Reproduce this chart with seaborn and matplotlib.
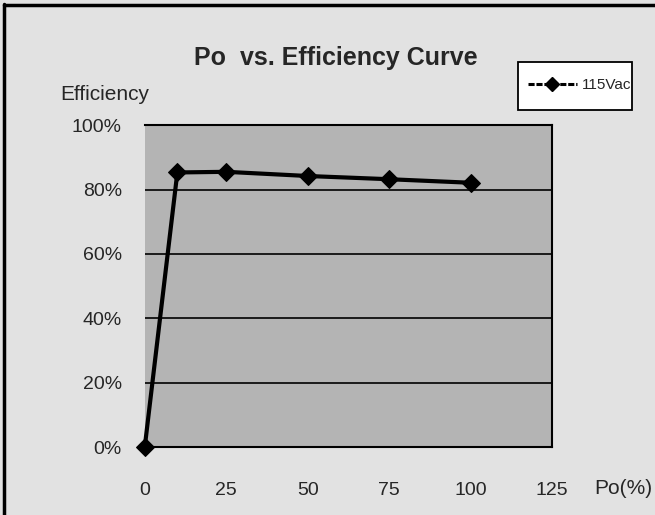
import numpy as np
import pandas as pd
import matplotlib.pyplot as plt
import seaborn as sb
from matplotlib.lines import Line2D
from matplotlib.patches import Rectangle

# data
po = [0, 10, 25, 50, 75, 100]
eff = [0.0, 85.3, 85.5, 84.2, 83.2, 82.1]
series = "115Vac"
x_ticks = [0, 25, 50, 75, 100, 125]
y_ticks = [0, 20, 40, 60, 80, 100]

df = pd.DataFrame({"Po": po, "Efficiency": eff, "series": series})

sb.set_style("white")
plt.rcParams["font.family"] = ["Liberation Sans", "DejaVu Sans"]

fig = plt.figure(figsize=(6.55, 5.15), dpi=100)
fig.patch.set_facecolor("#e2e2e2")
# scanned frame: only left and top edges are visible
fig.lines.append(Line2D([0.006, 0.006], [0, 0.993], transform=fig.transFigure,
                        color="black", linewidth=2.5))
fig.lines.append(Line2D([0.006, 1], [0.991, 0.991], transform=fig.transFigure,
                        color="black", linewidth=2.5))

ax = fig.add_axes([0.221, 0.132, 0.622, 0.625])
ax.set_facecolor("#b4b4b4")

sb.lineplot(data=df, x="Po", y="Efficiency", color="black", linewidth=3,
            marker="D", markersize=9, markeredgecolor="black", ax=ax,
            legend=False, clip_on=False, zorder=5)

ax.set_xlim(0, 125)
ax.set_ylim(0, 100)
ax.set_xticks(x_ticks)
ax.set_yticks(y_ticks)
ax.set_yticklabels([f"{v}%" for v in y_ticks])
ax.yaxis.grid(True, color="black", linewidth=1.2)
ax.set_axisbelow(True)
for s in ax.spines.values():
    s.set_color("black")
    s.set_linewidth(1.5)
ax.spines["left"].set_visible(False)
ax.tick_params(axis="x", direction="in", length=5, width=1.2, pad=25,
               labelsize=14, color="black")
ax.tick_params(axis="y", length=0, pad=16.5, labelsize=14)
ax.set_xlabel("")
ax.set_ylabel("")

fig.text(0.513, 0.887, "Po  vs. Efficiency Curve", ha="center", va="center",
         fontsize=18, fontweight="bold")
fig.text(0.092, 0.816, "Efficiency", ha="left", va="center", fontsize=15)
fig.text(0.908, 0.052, "Po(%)", ha="left", va="center", fontsize=15)

# legend box drawn separately so its size matches the scan
fig.patches.append(Rectangle((0.791, 0.786), 0.174, 0.093,
                             transform=fig.transFigure, facecolor="white",
                             edgecolor="black", linewidth=1.3))
handle = Line2D([], [], color="black", linewidth=2.2, linestyle=(0, (2, 0.6)),
                marker="D", markersize=7)
leg = fig.legend([handle], [series], loc="center left",
                 bbox_to_anchor=(0.806, 0.834), frameon=False,
                 fontsize=11, handlelength=3.2, borderpad=0,
                 handletextpad=0.3, borderaxespad=0)

fig.savefig("out.png", dpi=100, facecolor=fig.get_facecolor())
